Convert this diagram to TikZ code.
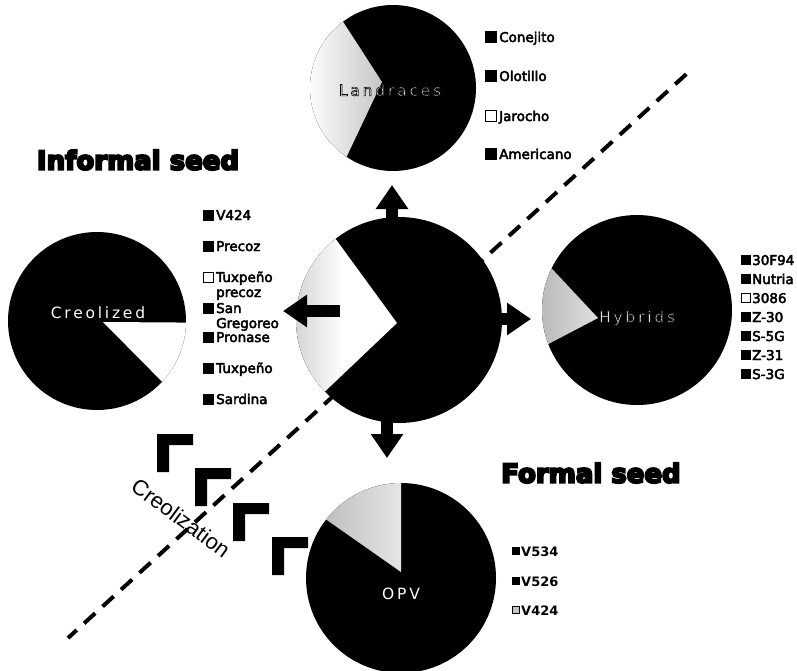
\documentclass[tikz,border=0pt]{standalone}
\usepackage{fontspec}
\setmainfont{DejaVu Sans}
\newfontfamily\legfont{DejaVu Sans}
\newfontfamily\legboldfont{DejaVu Sans Bold}
\newfontfamily\headfont{DejaVu Sans Bold}
\newfontfamily\pielabfont[LetterSpace=18]{DejaVu Sans}
\newfontfamily\creofont{Liberation Sans}
\usetikzlibrary{arrows.meta,calc}
% text drawn as fill + stroke (black stroke of given width)
\newcommand{\strk}[2]{\special{pdf:literal direct 2 Tr #1 w 0 G}#2\special{pdf:literal direct 0 Tr}}
\begin{document}
\begin{tikzpicture}[x=1pt,y=-1pt,
  pie/.style={circle, fill=black, inner sep=0pt, minimum size=#1},
  legtext/.style={anchor=base west, inner sep=0pt, font=\legfont\fontsize{13.5}{15}\selectfont},
  legbtext/.style={anchor=base west, inner sep=0pt, font=\legboldfont\fontsize{13}{15}\selectfont},
  sq/.style={draw=black, fill=black, inner sep=0pt, minimum size=#1, line width=0.8pt},
  wsq/.style={sq=#1, fill=white},
  gsq/.style={sq=#1, fill=gray!45},
  pielab/.style={inner sep=0pt, font=\pielabfont\fontsize{15.5}{17}\selectfont},
  heading/.style={inner sep=0pt, font=\headfont\fontsize{26}{30}\selectfont},
  blockarrow/.style={line width=12pt, -{Triangle[width=31pt,length=24pt]}},
  corner/.style={fill=black},
  divider/.style={line width=4pt, dash pattern=on 15pt off 10pt, dash phase=3.2pt}
]
\useasboundingbox (0,0) rectangle (797,670);

% divider line
\coordinate (dA) at (68,638);
\coordinate (dB) at (693,68);
\draw[divider] (dA) -- (dB);

% pies
\node[pie=166pt] (land) at (393,88) {};
\node[pie=206pt] (mid) at (399,320) {};
\node[pie=178pt] (creo) at (97,321) {};
\node[pie=190pt] (hyb) at (637,310) {};
\node[pie=190pt] (opv) at (401,578) {};

% wedges
\shade[left color=white, right color=gray!45] (382,82) -- ($(land.center)+(-127:83)$) arc[start angle=-127, end angle=-236, radius=83] -- cycle;
\shade[left color=gray!35, right color=white, middle color=white] (397,323) -- ($(mid.center)+(-128:103)$) arc[start angle=-128, end angle=-224, radius=103] -- cycle;
\fill[white] (103,322) -- ($(creo.center)+(1:89)$) arc[start angle=1, end angle=43, radius=89] -- cycle;
\shade[left color=gray!55, right color=gray!25] (598,318) -- ($(hyb.center)+(-154:95)$) arc[start angle=-154, end angle=-201, radius=95] -- cycle;
\shade[left color=gray!50, right color=gray!20] (401,572) -- ($(opv.center)+(-90:95)$) arc[start angle=-90, end angle=-142, radius=95] -- cycle;

% pie labels (white with black outline)
\node[pielab, text=white] (landlab) at (390,90) {\strk{0.55}{Landraces}};
\node[pielab, text=white] (hyblab) at (637,318) {\strk{0.55}{Hybrids}};
\node[pielab, text=white] (creolab) at (98,313) {Creolized};
\node[pielab, text=white] (opvlab) at (401,594) {OPV};

% arrows
\coordinate (upS) at (392,228);  \coordinate (upT) at (392,185);
\coordinate (lfS) at (340,311);  \coordinate (lfT) at (283,311);
\coordinate (rtS) at (490,319);  \coordinate (rtT) at (531,319);
\coordinate (dnS) at (387,410);  \coordinate (dnT) at (387,458);
\draw[blockarrow] (upS) -- (upT);
\draw[blockarrow] (lfS) -- (lfT);
\draw[blockarrow] (rtS) -- (rtT);
\draw[blockarrow] (dnS) -- (dnT);

% headings
\node[heading] (informal) at (138,160) {\strk{2}{Informal seed}};
\node[heading] (formal) at (591,473) {\strk{2}{Formal seed}};

% legend: landraces
\node[sq=11pt] (lsq1) at (491,37) {};  \node[legtext] (lt1) at (499,42) {\strk{0.45}{Conejito}};
\node[sq=11pt] (lsq2) at (491,76) {};  \node[legtext] (lt2) at (499,81) {\strk{0.45}{Olotillo}};
\node[wsq=11pt] (lsq3) at (491,116) {}; \node[legtext] (lt3) at (499,121) {\strk{0.45}{Jarocho}};
\node[sq=11pt] (lsq4) at (491,154) {}; \node[legtext] (lt4) at (499,159) {\strk{0.45}{Americano}};

% legend: creolized
\node[sq=10pt] (csq1) at (208,215) {}; \node[legtext] (ct1) at (216,220) {\strk{0.45}{V424}};
\node[sq=10pt] (csq2) at (208,246) {}; \node[legtext] (ct2) at (216,251) {\strk{0.45}{Precoz}};
\node[wsq=10pt] (csq3) at (208,277) {}; \node[legtext] (ct3) at (216,282) {\strk{0.45}{Tuxpeño}};
\node[legtext] (ct3b) at (216,297) {\strk{0.45}{precoz}};
\node[sq=10pt] (csq4) at (208,308) {}; \node[legtext] (ct4) at (216,313) {\strk{0.45}{San}};
\node[legtext] (ct4b) at (216,328) {\strk{0.45}{Gregoreo}};
\node[sq=10pt] (csq5) at (208,337) {}; \node[legtext] (ct5) at (216,342) {\strk{0.45}{Pronase}};
\node[sq=10pt] (csq6) at (208,368) {}; \node[legtext] (ct6) at (216,373) {\strk{0.45}{Tuxpeño}};
\node[sq=10pt] (csq7) at (208,399) {}; \node[legtext] (ct7) at (216,404) {\strk{0.45}{Sardina}};

% legend: hybrids
\node[sq=9pt] (hsq1) at (746,260) {}; \node[legtext] (ht1) at (752,265) {\strk{0.45}{30F94}};
\node[sq=9pt] (hsq2) at (746,279) {}; \node[legtext] (ht2) at (752,284) {\strk{0.45}{Nutria}};
\node[wsq=9pt] (hsq3) at (746,298) {}; \node[legtext] (ht3) at (752,303) {\strk{0.45}{3086}};
\node[sq=9pt] (hsq4) at (746,317) {}; \node[legtext] (ht4) at (752,322) {\strk{0.45}{Z-30}};
\node[sq=9pt] (hsq5) at (746,336) {}; \node[legtext] (ht5) at (752,341) {\strk{0.45}{S-5G}};
\node[sq=9pt] (hsq6) at (746,355) {}; \node[legtext] (ht6) at (752,360) {\strk{0.45}{Z-31}};
\node[sq=9pt] (hsq7) at (746,374) {}; \node[legtext] (ht7) at (752,379) {\strk{0.45}{S-3G}};

% legend: OPV
\node[sq=7.5pt] (osq1) at (516,551) {}; \node[legbtext] (ot1) at (521,556) {V534};
\node[sq=7.5pt] (osq2) at (516,581) {}; \node[legbtext] (ot2) at (521,586) {V526};
\node[gsq=7.5pt] (osq3) at (516,610) {}; \node[legbtext] (ot3) at (521,615) {V424};

% creolization corners
\foreach \cx/\cy in {157/434, 195/468, 233/503, 272/537}{
  \fill[corner] (\cx,\cy) -- ++(36,0) -- ++(0,11) -- ++(-24,0) -- ++(0,27) -- ++(-12,0) -- cycle;
}
\node[inner sep=0pt, rotate=-36.5, font=\creofont\fontsize{22}{24}\selectfont] (creotxt) at (181,518) {Creolization};
\end{tikzpicture}
\end{document}
